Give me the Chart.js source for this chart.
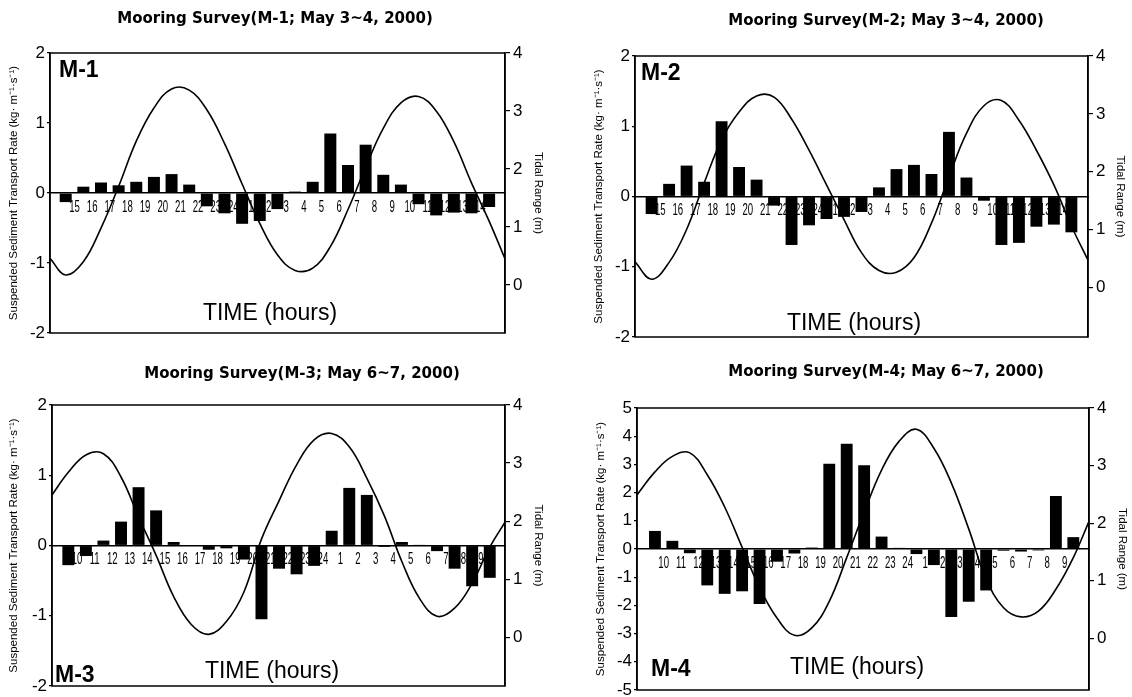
<!DOCTYPE html>
<html>
<head>
<meta charset="utf-8">
<title>Mooring Survey</title>
<script src="https://cdn.jsdelivr.net/npm/chart.js@4.4.1/dist/chart.umd.min.js"></script>
<style>
  html, body { margin: 0; padding: 0; background: #fff; width: 1132px; height: 697px; overflow: hidden; }
  canvas { position: absolute; }
</style>
</head>
<body>
<canvas id="chartM1" width="566" height="360" style="left:0;top:0"></canvas>
<canvas id="chartM2" width="566" height="360" style="left:566px;top:0"></canvas>
<canvas id="chartM3" width="566" height="370" style="left:0;top:340px"></canvas>
<canvas id="chartM4" width="566" height="370" style="left:566px;top:340px"></canvas>
<script>
// hour labels sit on the hour boundaries, between the bars
var HOURS_MAY3 = ["15", "16", "17", "18", "19", "20", "21", "22", "23", "24", "1", "2",
  "3", "4", "5", "6", "7", "8", "9", "10", "11", "12", "13", "14"];
var HOURS_MAY6 = ["10", "11", "12", "13", "14", "15", "16", "17", "18", "19", "20", "21",
  "22", "23", "24", "1", "2", "3", "4", "5", "6", "7", "8", "9"];

// suspended sediment transport rate (kg m-1 s-1), one bar per hour
var TRANSPORT_M1 = [-0.13, 0.09, 0.15, 0.11, 0.16, 0.23, 0.27, 0.12, -0.19, -0.29, -0.44, -0.40,
  -0.23, 0.02, 0.16, 0.85, 0.40, 0.69, 0.26, 0.12, -0.16, -0.32, -0.28, -0.29, -0.20];
var TRANSPORT_M2 = [-0.25, 0.18, 0.44, 0.21, 1.07, 0.42, 0.24, -0.13, -0.69, -0.41, -0.32, -0.29,
  -0.22, 0.13, 0.39, 0.45, 0.32, 0.92, 0.27, -0.06, -0.69, -0.66, -0.43, -0.40, -0.51];
var TRANSPORT_M3 = [-0.28, -0.15, 0.07, 0.34, 0.83, 0.50, 0.05, 0.0, -0.06, -0.04, -0.20, -1.05,
  -0.33, -0.41, -0.29, 0.21, 0.82, 0.72, -0.02, 0.05, 0.01, -0.08, -0.33, -0.58, -0.46];
var TRANSPORT_M4 = [0.64, 0.29, -0.15, -1.29, -1.59, -1.50, -1.95, -0.45, -0.16, 0.05, 3.02, 3.73,
  2.97, 0.44, 0.04, -0.18, -0.57, -2.41, -1.87, -1.47, -0.06, -0.09, -0.05, 1.88, 0.42];

// tidal range (m) read at each bar, plus where the curve meets the left/right frame
var TIDE_M1 = [0.17, 0.40, 0.98, 1.70, 2.48, 3.05, 3.38, 3.36, 3.02, 2.44, 1.74, 1.06, 0.52,
  0.25, 0.29, 0.66, 1.30, 2.03, 2.70, 3.14, 3.25, 3.00, 2.47, 1.76, 1.10];
var TIDE_EDGE_M1 = [0.46, 0.45];
var TIDE_M2 = [0.14, 0.43, 1.00, 1.80, 2.55, 3.03, 3.31, 3.29, 2.91, 2.37, 1.77, 1.17, 0.60,
  0.29, 0.26, 0.51, 1.11, 1.91, 2.66, 3.14, 3.23, 2.89, 2.37, 1.77, 1.06];
var TIDE_EDGE_M2 = [0.44, 0.47];
var TIDE_M3 = [2.84, 3.14, 3.16, 2.76, 2.07, 1.41, 0.70, 0.22, 0.05, 0.27, 0.78, 1.69, 2.35,
  2.97, 3.40, 3.51, 3.28, 2.74, 2.09, 1.30, 0.67, 0.36, 0.50, 0.93, 1.55];
var TIDE_EDGE_M3 = [2.45, 1.98];
var TIDE_M4 = [2.89, 3.16, 3.22, 2.84, 2.28, 1.58, 0.88, 0.35, 0.05, 0.18, 0.64, 1.40, 2.19,
  2.92, 3.42, 3.63, 3.30, 2.70, 1.90, 1.03, 0.53, 0.37, 0.47, 0.85, 1.40];
var TIDE_EDGE_M4 = [2.49, 2.03];

var RATE_TICKS_2 = [-2, -1, 0, 1, 2];
var RATE_TICKS_5 = [-5, -4, -3, -2, -1, 0, 1, 2, 3, 4, 5];
var TIDE_TICKS = [0, 1, 2, 3, 4];

var SANS = "'Liberation Sans', Arial, sans-serif";
Chart.defaults.color = "#000";
Chart.defaults.font.family = SANS;

// frame, panel title, station tag, TIME caption and the squeezed hour labels
var framePlugin = {
  id: "frame",
  beforeDatasetsDraw: function (chart, args, o) {
    // hour labels go under the bars, like in the original figure
    var xs = chart.scales.x;
    var y0 = chart.scales.y.getPixelForValue(0);
    var ctx = chart.ctx;
    ctx.save();
    ctx.fillStyle = "#000";
    ctx.font = "16px " + SANS;
    ctx.textAlign = "center";
    ctx.textBaseline = "alphabetic";
    xs.ticks.forEach(function (t, i) {
      ctx.save();
      ctx.translate(xs.getPixelForValue(t.value), y0 + 18.5);
      ctx.scale(0.6, 1);
      ctx.fillText(o.hours[i], 0, 0);
      ctx.restore();
    });
    ctx.restore();
  },
  afterDatasetsDraw: function (chart, args, o) {
    var a = chart.chartArea;
    var ctx = chart.ctx;
    ctx.save();
    ctx.strokeStyle = "#000";
    ctx.lineWidth = 1.5;
    ctx.strokeRect(a.left, a.top, a.right - a.left, a.bottom - a.top);
    ctx.fillStyle = "#000";
    ctx.textAlign = "center";
    ctx.textBaseline = "middle";
    ctx.font = "bold 15px 'DejaVu Sans', sans-serif";
    ctx.fillText(o.title, o.titleX, o.titleY);
    ctx.font = "23px " + SANS;
    ctx.fillText("TIME (hours)", o.timeX, o.timeY);
    ctx.textAlign = "left";
    ctx.textBaseline = "alphabetic";
    ctx.font = "bold 23px " + SANS;
    ctx.fillText(o.tag, o.tagX, o.tagY);
    ctx.restore();
  },
};

function makePanel(id, p) {
  var hours = p.hours;
  var bars = p.transport.map(function (v, i) {
    return { x: i, y: v };
  });
  var tide = [{ x: p.xMin, y: p.tideEdge[0] }]
    .concat(p.tide.map(function (v, i) { return { x: i, y: v }; }))
    .concat([{ x: p.xMax, y: p.tideEdge[1] }]);
  p.labels.hours = hours;

  new Chart(document.getElementById(id), {
    type: "bar",
    data: {
      datasets: [
        {
          type: "line",
          data: tide,
          yAxisID: "y1",
          borderColor: "#000",
          borderWidth: 1.6,
          pointRadius: 0,
          tension: 0.4,
          fill: false,
          order: 0,
        },
        {
          type: "bar",
          data: bars,
          yAxisID: "y",
          backgroundColor: "#000",
          barPercentage: 0.68,
          categoryPercentage: 1,
          order: 1,
        },
      ],
    },
    options: {
      responsive: false,
      animation: false,
      devicePixelRatio: 1,
      layout: { padding: { left: 0, right: 0, top: p.top, bottom: p.bottom } },
      plugins: {
        legend: { display: false },
        tooltip: { enabled: false },
        frame: p.labels,
      },
      scales: {
        x: {
          type: "linear",
          position: { y: 0 },
          min: p.xMin,
          max: p.xMax,
          offset: false,
          afterBuildTicks: function (s) {
            s.ticks = hours.map(function (h, k) { return { value: k + 0.5 }; });
          },
          grid: { display: false, drawTicks: false, offset: false },
          border: { display: true, color: "#000", width: 1.5 },
          ticks: { display: false, autoSkip: false, maxRotation: 0 },
        },
        y: {
          type: "linear",
          position: "left",
          min: p.rateTicks[0],
          max: p.rateTicks[p.rateTicks.length - 1],
          afterBuildTicks: function (s) {
            s.ticks = p.rateTicks.map(function (v) { return { value: v }; });
          },
          afterFit: function (s) { s.width = p.left; },
          grid: { drawOnChartArea: false, tickLength: 3, color: "#000", lineWidth: 1.2 },
          border: { display: true, color: "#000", width: 1.5 },
          ticks: { padding: 2, font: { size: 17 } },
          title: {
            display: true,
            text: "Suspended Sediment Transport Rate (kg\u00b7 m\u207b\u00b9\u00b7s\u207b\u00b9)",
            font: { size: 11.5 },
            padding: { top: p.leftTitlePad, bottom: 0 },
          },
        },
        y1: {
          type: "linear",
          position: "right",
          min: p.tideMin,
          max: 4,
          afterBuildTicks: function (s) {
            s.ticks = TIDE_TICKS.map(function (v) { return { value: v }; });
          },
          afterFit: function (s) { s.width = p.right; },
          grid: { drawOnChartArea: false, tickLength: 5, color: "#000", lineWidth: 1.2 },
          border: { display: true, color: "#000", width: 1.5 },
          ticks: { padding: 3, font: { size: 17 } },
          title: {
            display: true,
            text: "Tidal Range (m)",
            font: { size: 11.5 },
            padding: { top: p.rightTitlePad, bottom: 0 },
          },
        },
      },
    },
    plugins: [framePlugin],
  });
}

makePanel("chartM1", {
  hours: HOURS_MAY3, transport: TRANSPORT_M1, tide: TIDE_M1, tideEdge: TIDE_EDGE_M1,
  rateTicks: RATE_TICKS_2, tideMin: -0.83, xMin: -0.89, xMax: 24.9,
  left: 50, right: 61, top: 53, bottom: 27, leftTitlePad: 7.1, rightTitlePad: 21,
  labels: { title: "Mooring Survey(M-1; May 3~4, 2000)", titleX: 275, titleY: 19,
    tag: "M-1", tagX: 59, tagY: 77, timeX: 270, timeY: 314 },
});
makePanel("chartM2", {
  hours: HOURS_MAY3, transport: TRANSPORT_M2, tide: TIDE_M2, tideEdge: TIDE_EDGE_M2,
  rateTicks: RATE_TICKS_2, tideMin: -0.86, xMin: -0.95, xMax: 24.95,
  left: 69, right: 44, top: 56, bottom: 23, leftTitlePad: 26.1, rightTitlePad: 5,
  labels: { title: "Mooring Survey(M-2; May 3~4, 2000)", titleX: 320, titleY: 21,
    tag: "M-2", tagX: 75, tagY: 80, timeX: 288, timeY: 324 },
});
makePanel("chartM3", {
  hours: HOURS_MAY6, transport: TRANSPORT_M3, tide: TIDE_M3, tideEdge: TIDE_EDGE_M3,
  rateTicks: RATE_TICKS_2, tideMin: -0.84, xMin: -0.93, xMax: 24.87,
  left: 52, right: 61, top: 65, bottom: 24, leftTitlePad: 7.1, rightTitlePad: 21,
  labels: { title: "Mooring Survey(M-3; May 6~7, 2000)", titleX: 302, titleY: 34,
    tag: "M-3", tagX: 55, tagY: 342, timeX: 272, timeY: 332 },
});
makePanel("chartM4", {
  hours: HOURS_MAY6, transport: TRANSPORT_M4, tide: TIDE_M4, tideEdge: TIDE_EDGE_M4,
  rateTicks: RATE_TICKS_5, tideMin: -0.9, xMin: -1.03, xMax: 24.9,
  left: 71, right: 43, top: 68, bottom: 20, leftTitlePad: 28.1, rightTitlePad: 3,
  labels: { title: "Mooring Survey(M-4; May 6~7, 2000)", titleX: 320, titleY: 32,
    tag: "M-4", tagX: 85, tagY: 336, timeX: 291, timeY: 328 },
});
</script>
</body>
</html>
